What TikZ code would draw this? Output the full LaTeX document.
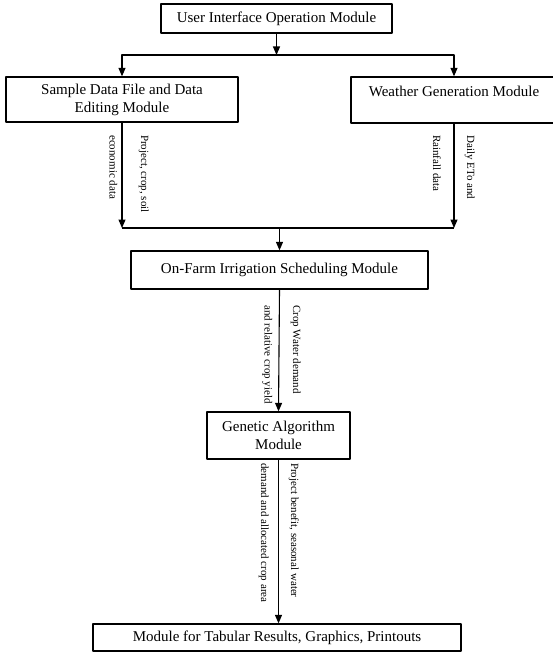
\documentclass[tikz,border=0pt]{standalone}
\usepackage{fontspec}
\setmainfont{Liberation Serif}
\usetikzlibrary{arrows.meta}
\begin{document}
\begin{tikzpicture}[x=1pt, y=-1pt, line join=round, >={Triangle[length=8.5pt,width=7pt]},
	module/.style={draw, line width=1.3pt, align=center, inner sep=0pt, font=\fontsize{15pt}{18pt}\selectfont},
	flow/.style={line width=1.1pt},
	lab/.style={rotate=-90, anchor=base west, inner sep=0pt, font=\fontsize{11pt}{13pt}\selectfont}]
	\useasboundingbox (0,0) rectangle (552,652);
	% modules
	\node[module, minimum width=231pt, minimum height=29pt] (ui) at (276.5,18.5) {User Interface Operation Module};
	\node[module, minimum width=232pt, minimum height=45pt] (sample) at (122,99.5) {Sample Data File and Data\\Editing Module};
	\node[module, minimum width=206pt, minimum height=46pt] (weather) at (454,100) {Weather Generation Module\\\mbox{}};
	\node[module, minimum width=297pt, minimum height=38pt] (farm) at (279.5,270) {On-Farm Irrigation Scheduling Module};
	\node[module, minimum width=143pt, minimum height=47pt] (ga) at (278.5,435.5) {Genetic Algorithm\\Module};
	\node[module, minimum width=368pt, minimum height=27pt] (out) at (277,637.5) {Module for Tabular Results, Graphics, Printouts};
	\coordinate (split) at (276.5,55);
	\coordinate (join) at (279.5,228);
	% connectors
	\draw[flow,->] (ui.south) -- (split);
	\draw[flow,->] (split) -| (sample.north);
	\draw[flow,->] (split) -| (weather.north);
	\draw[flow,->] (sample.south) -- (sample.south |- join);
	\draw[flow,->] (weather.south) -- (weather.south |- join);
	\draw[flow] (sample.south |- join) -- (weather.south |- join);
	\draw[flow,->] (join) -- (farm.north);
	\draw[flow,->] (farm.south) -- (ga.north);
	\draw[flow,->] (ga.south) -- (ga.south |- out.north);
	% labels
	\node[lab] (l1a) at (141,135) {Project, crop, soil};
	\node[lab] (l1b) at (109.5,135) {economic data};
	\node[lab] (l2a) at (467,135) {Daily ETo and};
	\node[lab] (l2b) at (433,135) {Rainfall data};
	\node[lab] (l3a) at (293,305) {Crop Water demand};
	\node[lab] (l3b) at (264.5,305) {and relative crop yield};
	\node[lab] (l4a) at (291,463) {Project benefit, seasonal water};
	\node[lab] (l4b) at (261,463) {demand and allocated crop area};
\end{tikzpicture}
\end{document}
